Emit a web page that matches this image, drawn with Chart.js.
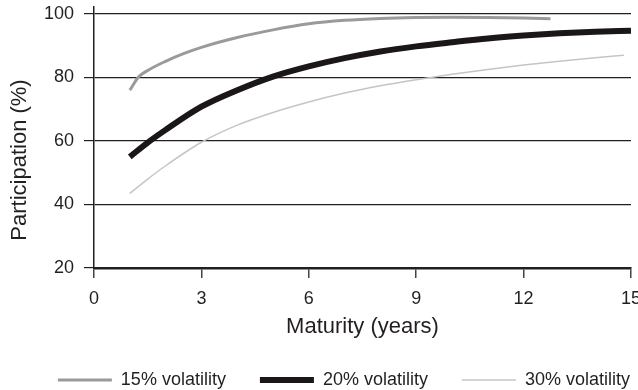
<!DOCTYPE html>
<html>
<head>
<meta charset="utf-8">
<script src="https://cdn.jsdelivr.net/npm/chart.js@4/dist/chart.umd.min.js"></script>
<style>
  html, body { margin: 0; padding: 0; background: #fff; }
  #wrap { width: 638px; height: 390px; }
</style>
</head>
<body>
<div id="wrap"><canvas id="c" width="638" height="390"></canvas></div>
<script>
// ---- data ----
const seriesLabels = ['15% volatility', '20% volatility', '30% volatility'];
const years15 = [1, 1.25, 1.5, 2, 2.5, 3, 4, 5, 6, 7, 8, 9, 10, 11, 12, 12.75];
const vals15  = [76, 80.2, 82.2, 85.1, 87.5, 89.5, 92.6, 95, 96.9, 98, 98.6, 98.9, 99, 98.9, 98.7, 98.5];
const years20 = [1, 1.5, 2, 3, 4, 5, 6, 7, 8, 9, 10, 11, 12, 13, 14, 15];
const vals20  = [55, 59.5, 63.5, 70.8, 76, 80.3, 83.5, 86.1, 88.2, 89.8, 91.1, 92.3, 93.2, 93.9, 94.4, 94.7];
const years30 = [1, 1.5, 2, 3, 4, 5, 6, 7, 8, 9, 10, 11, 12, 13, 14, 14.8];
const vals30  = [43.5, 48, 52.2, 59.6, 65, 69, 72.3, 75.1, 77.4, 79.3, 81, 82.5, 83.9, 85.1, 86.2, 87];
const xTicks = [0, 3, 6, 9, 12, 15];
const yTicks = [20, 40, 60, 80, 100];
const xTitle = 'Maturity (years)';
const yTitle = 'Participation (%)';

const toPts = (xs, ys) => xs.map((x, i) => ({ x: x, y: ys[i] }));

const FONT = "'Liberation Sans', Arial, Helvetica, sans-serif";
const TXT = '#231f20';

const yTitlePlugin = {
  id: 'yTitle',
  afterDraw(chart) {
    const ctx = chart.ctx;
    ctx.save();
    ctx.font = '22px ' + FONT;
    ctx.fillStyle = TXT;
    ctx.textAlign = 'center';
    ctx.textBaseline = 'middle';
    ctx.translate(20, 160);
    ctx.rotate(-Math.PI / 2);
    ctx.fillText(yTitle, 0, 0);
    ctx.restore();
  }
};

const noPad = (scale) => { scale.paddingTop = 0; scale.paddingBottom = 0; scale.paddingLeft = 0; scale.paddingRight = 0; };

new Chart(document.getElementById('c'), {
  type: 'line',
  data: {
    datasets: [
      { label: seriesLabels[0], data: toPts(years15, vals15), borderColor: '#999a9c', borderWidth: 3, xAxisID: 'x', yAxisID: 'y' },
      { label: seriesLabels[1], data: toPts(years20, vals20), borderColor: '#1b1718', borderWidth: 6, xAxisID: 'x', yAxisID: 'y' },
      { label: seriesLabels[2], data: toPts(years30, vals30), borderColor: '#c4c5c7', borderWidth: 1.5, xAxisID: 'x', yAxisID: 'y' }
    ]
  },
  options: {
    responsive: false,
    animation: false,
    devicePixelRatio: 1,
    layout: { padding: { left: 0, right: -26, top: 7, bottom: -9 } },
    elements: {
      point: { radius: 0, hoverRadius: 0 },
      line: { cubicInterpolationMode: 'monotone', fill: false, borderCapStyle: 'butt' }
    },
    plugins: {
      tooltip: { enabled: false },
      legend: {
        position: 'bottom',
        align: 'end',
        labels: {
          usePointStyle: true,
          pointStyle: 'line',
          pointStyleWidth: 54,
          boxWidth: 54,
          padding: 34,
          color: TXT,
          font: { family: FONT, size: 18 },
          generateLabels(chart) {
            return chart.data.datasets.map((ds, i) => ({
              text: ds.label,
              strokeStyle: ds.borderColor,
              fillStyle: ds.borderColor,
              lineWidth: ds.borderWidth,
              pointStyle: 'line',
              fontColor: TXT,
              hidden: false,
              datasetIndex: i
            }));
          }
        }
      }
    },
    scales: {
      x: {
        type: 'linear',
        position: 'bottom',
        min: 0,
        max: 15,
        afterBuildTicks(scale) { scale.ticks = xTicks.map(v => ({ value: v })); },
        afterFit(scale) { scale.height = 69; noPad(scale); },
        ticks: { color: TXT, font: { family: FONT, size: 18 }, padding: 10, maxRotation: 0 },
        grid: { drawOnChartArea: false, drawTicks: true, tickLength: 10, color: '#444', lineWidth: 1.5 },
        border: { display: true, color: '#231f20', width: 2.5 },
        title: { display: true, text: xTitle, color: TXT, font: { family: FONT, size: 22 }, padding: { top: 0, bottom: -3 } }
      },
      y: {
        type: 'linear',
        position: 'left',
        min: 20,
        max: 102.2,
        afterBuildTicks(scale) { scale.ticks = yTicks.map(v => ({ value: v })); },
        afterFit(scale) { scale.width = 94; noPad(scale); },
        ticks: { color: TXT, font: { family: FONT, size: 18 }, padding: 10 },
        grid: { drawOnChartArea: true, drawTicks: true, tickLength: 10, color: '#231f20', lineWidth: 1.2 },
        border: { display: true, color: '#231f20', width: 1.5 }
      },
      yRight: {
        type: 'linear',
        position: 'right',
        min: 20,
        max: 102.2,
        display: true,
        afterFit(scale) { scale.width = 33; noPad(scale); },
        ticks: { display: false },
        grid: { display: false },
        border: { display: false },
        title: { display: false }
      }
    }
  },
  plugins: [yTitlePlugin]
});
</script>
</body>
</html>
